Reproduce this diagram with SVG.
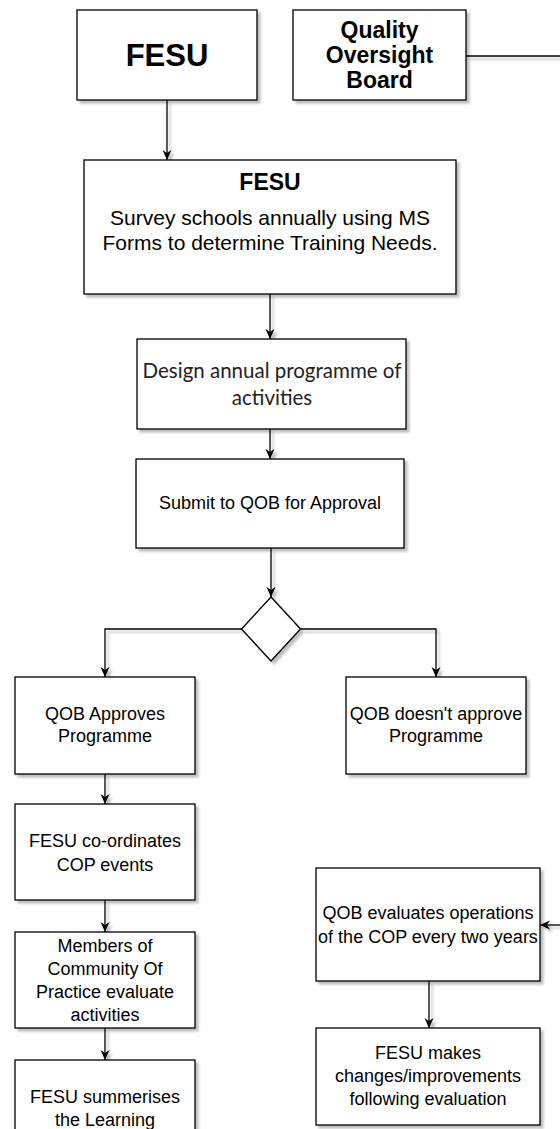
<svg xmlns="http://www.w3.org/2000/svg" width="560" height="1129" viewBox="0 0 560 1129">
<defs>
<filter id="sh" filterUnits="userSpaceOnUse" x="0" y="0" width="560" height="1200">
<feDropShadow dx="3" dy="3" stdDeviation="1" flood-color="#000" flood-opacity="0.25"/>
</filter>
<marker id="ah" markerWidth="10" markerHeight="10" refX="10" refY="5" orient="auto" markerUnits="userSpaceOnUse">
<path d="M0,0.5 L10,5 L0,9.5 L3,5 z" fill="#000"/>
</marker>
</defs>
<style>
.box{fill:#fff;stroke:#000;stroke-width:1.3;filter:url(#sh)}
.c{fill:none;stroke:#000;stroke-width:1.3;filter:url(#sh)}
.a{marker-end:url(#ah)}
text{font-family:"Liberation Sans",Arial,sans-serif;fill:#000;text-anchor:middle;dominant-baseline:central}
.t{font-size:18px}
.b{font-weight:bold}
.lato{font-family:Lato,"Liberation Sans",sans-serif;font-size:20.5px;fill:#222}
</style>
<rect width="560" height="1129" fill="#fff"/>
<g id="connectors">
<path class="c a" d="M167,100 L167,160"/>
<path class="c" d="M466,56 L560,56"/>
<path class="c a" d="M270,294 L270,339"/>
<path class="c a" d="M270,429 L270,459"/>
<path class="c a" d="M271,548 L271,597"/>
<path class="c a" d="M242,629 L105,629 L105,677"/>
<path class="c a" d="M301,629 L436,629 L436,677"/>
<path class="c a" d="M105,774 L105,804"/>
<path class="c a" d="M105,900 L105,932"/>
<path class="c a" d="M105,1028 L105,1060"/>
<path class="c a" d="M560,925 L540,925"/>
<path class="c a" d="M429,981 L429,1028"/>
</g>
<g id="n1"><rect class="box" x="77" y="10" width="180" height="90"/><text class="b" x="167" y="55" font-size="31">FESU</text></g>
<g id="n2"><rect class="box" x="293" y="10" width="173" height="90"/>
<text class="b" font-size="23" x="379.5" y="30">Quality</text>
<text class="b" font-size="23" x="379.5" y="55">Oversight</text>
<text class="b" font-size="23" x="379.5" y="80">Board</text></g>
<g id="n3"><rect class="box" x="84" y="160" width="372" height="134"/>
<text class="b" font-size="23" x="270" y="182">FESU</text>
<text font-size="21" x="270" y="217">Survey schools annually using MS</text>
<text font-size="21" x="270" y="242">Forms to determine Training Needs.</text></g>
<g id="n4"><rect class="box" x="137" y="339" width="269" height="90"/>
<text class="lato" x="272" y="370">Design annual programme of</text>
<text class="lato" x="272" y="397">activities</text></g>
<g id="n5"><rect class="box" x="136" y="459" width="268" height="89"/>
<text class="t" x="270" y="503" font-size="17.5">Submit to QOB for Approval</text></g>
<g id="n6"><path class="box" d="M271,597 L300.5,629 L271,661 L241.5,629 Z"/></g>
<g id="n7"><rect class="box" x="15" y="677" width="180" height="97"/>
<text class="t" x="105" y="714">QOB Approves</text>
<text class="t" x="105" y="736">Programme</text></g>
<g id="n8"><rect class="box" x="346" y="677" width="180" height="97"/>
<text class="t" x="436" y="714">QOB doesn't approve</text>
<text class="t" x="436" y="736">Programme</text></g>
<g id="n9"><rect class="box" x="15" y="804" width="180" height="96"/>
<text class="t" x="105" y="841">FESU co-ordinates</text>
<text class="t" x="105" y="865">COP events</text></g>
<g id="n10"><rect class="box" x="15" y="932" width="180" height="96"/>
<text class="t" x="105" y="946">Members of</text>
<text class="t" x="105" y="969">Community Of</text>
<text class="t" x="105" y="992">Practice evaluate</text>
<text class="t" x="105" y="1015">activities</text></g>
<g id="n11"><rect class="box" x="15" y="1060" width="180" height="100"/>
<text class="t" x="105" y="1097">FESU summerises</text>
<text class="t" x="105" y="1120">the Learning</text></g>
<g id="n12"><rect class="box" x="316" y="868" width="224" height="113"/>
<text class="t" x="428" y="913">QOB evaluates operations</text>
<text class="t" x="428" y="937">of the COP every two years</text></g>
<g id="n13"><rect class="box" x="316" y="1028" width="224" height="97"/>
<text class="t" x="428" y="1053">FESU makes</text>
<text class="t" x="428" y="1076">changes/improvements</text>
<text class="t" x="428" y="1099">following evaluation</text></g>
</svg>
